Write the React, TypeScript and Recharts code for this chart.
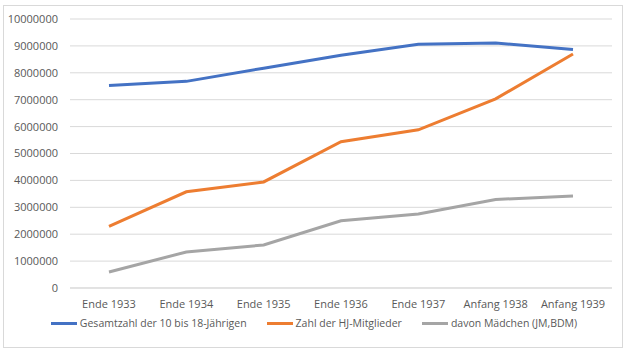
import { CartesianGrid, Line, LineChart, XAxis, YAxis } from 'recharts';

const categories = ['Ende 1933', 'Ende 1934', 'Ende 1935', 'Ende 1936', 'Ende 1937', 'Anfang 1938', 'Anfang 1939'];
const gesamt = [7529000, 7682000, 8172000, 8656000, 9060000, 9109000, 8870000];
const hj = [2292000, 3577000, 3943000, 5437000, 5880000, 7031000, 8700000];
const maedchen = [593000, 1340000, 1600000, 2500000, 2750000, 3290000, 3420000];
const yTicks = [0, 1000000, 2000000, 3000000, 4000000, 5000000, 6000000, 7000000, 8000000, 9000000, 10000000];

const series = [
  { key: 'gesamt', name: 'Gesamtzahl der 10 bis 18-Jährigen', color: '#4472C4' },
  { key: 'hj', name: 'Zahl der HJ-Mitglieder', color: '#ED7D31' },
  { key: 'maedchen', name: 'davon Mädchen (JM,BDM)', color: '#A5A5A5' },
];

const data = categories.map((label, i) => ({
  label,
  gesamt: gesamt[i],
  hj: hj[i],
  maedchen: maedchen[i],
}));

const font = "'Open Sans', 'Noto Sans', sans-serif";

export default function App() {
  return (
    <div style={{ position: 'absolute', left: 0, top: 0, width: 628, height: 352, background: '#fff' }}>
      <div style={{ position: 'absolute', left: 3, top: 5, width: 620, height: 343, border: '1px solid #d9d9d9', boxSizing: 'border-box' }} />
      <LineChart width={628} height={352} data={data} margin={{ top: 19, right: 16, bottom: 34, left: 0 }}>
        <CartesianGrid vertical={false} stroke="#d9d9d9" />
        <XAxis
          dataKey="label"
          padding={{ left: 39, right: 39 }}
          axisLine={{ stroke: '#d9d9d9' }}
          tickLine={false}
          tickMargin={6}
          tick={{ fill: '#595959', fontSize: 11, fontFamily: font }}
          interval={0}
        />
        <YAxis
          width={70}
          domain={[0, 10000000]}
          ticks={yTicks}
          axisLine={false}
          tickLine={false}
          tickSize={0}
          tickMargin={12}
          tick={{ fill: '#595959', fontSize: 11, fontFamily: font }}
        />
        {series.map((s) => (
          <Line
            key={s.key}
            dataKey={s.key}
            name={s.name}
            stroke={s.color}
            strokeWidth={3}
            dot={false}
            activeDot={false}
            isAnimationActive={false}
          />
        ))}
      </LineChart>
      <div
        style={{
          position: 'absolute',
          left: 0,
          top: 316,
          width: 628,
          display: 'flex',
          justifyContent: 'center',
          gap: 20,
          fontFamily: font,
          fontSize: 10.5,
          color: '#595959',
        }}
      >
        {series.map((s) => (
          <div key={s.key} style={{ display: 'flex', alignItems: 'center' }}>
            <span style={{ display: 'inline-block', width: 26, height: 3, background: s.color, marginRight: 3 }} />
            <span>{s.name}</span>
          </div>
        ))}
      </div>
    </div>
  );
}
